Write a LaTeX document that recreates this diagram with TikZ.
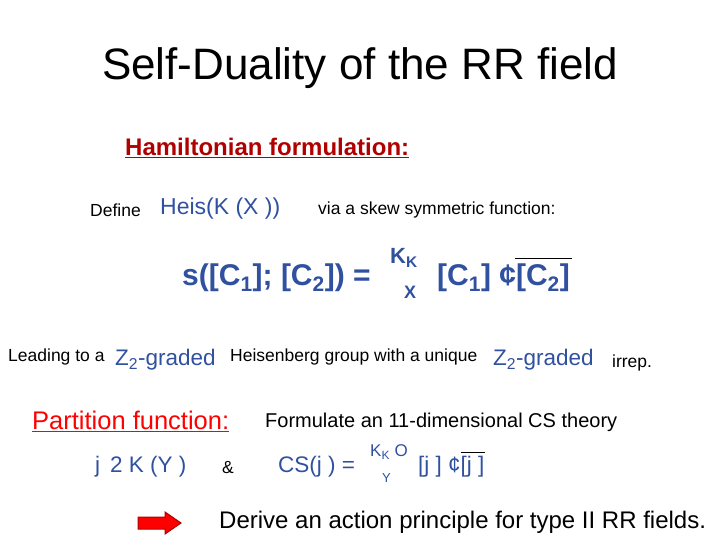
\documentclass[tikz,border=0pt]{standalone}
\usepackage{fontspec}
\setmainfont{Liberation Sans}
\definecolor{fb}{HTML}{3050A0}
\definecolor{dr}{HTML}{B00000}
\begin{document}
\begin{tikzpicture}[x=1pt,y=-1pt,
 t/.style={anchor=west,inner sep=0pt,font=\fontsize{17.5}{17.5}\selectfont},
 f/.style={anchor=west,inner sep=0pt,text=fb,font=\fontsize{22.5}{22.5}\selectfont},
 fb/.style={anchor=west,inner sep=0pt,text=fb,font=\bfseries\fontsize{30}{30}\selectfont}]
\useasboundingbox (0,0) rectangle (720,540);
\node (title) at (360,68) {\fontsize{44}{44}\selectfont Self-Duality of the RR field};
\node[t,text=dr,font=\bfseries\fontsize{24}{24}\selectfont] (ham) at (125,148) {\underline{Hamiltonian formulation:}};
\node[t] (def) at (90,210) {Define};
\node[f,font=\fontsize{23}{23}\selectfont] (heis) at (160,209) {Heis(K (X ))};
\node[t] (via) at (318,210) {via a skew symmetric function:};
\node[fb] (s) at (182,278) {s([C\textsubscript{1}]; [C\textsubscript{2}]) =};
\node[fb] (sig) at (390,258) {\fontsize{22}{22}\selectfont K\textsubscript{K}};
\node[fb] (x) at (404,292) {\fontsize{18}{18}\selectfont X};
\node[fb] (c1) at (437,278) {[C\textsubscript{1}] ¢[C\textsubscript{2}]};
\draw[fb,thick] (515,258) -- (572,258);
\node[t] (lead) at (8,357) {Leading to a};
\node[f] (z1) at (115,360) {Z\textsubscript{2}-graded};
\node[t] (heis2) at (230,357) {Heisenberg group with a unique};
\node[f] (z2) at (493,360) {Z\textsubscript{2}-graded};
\node[t] (irrep) at (612,363) {irrep.};
\node[t,text=red,font=\fontsize{25.5}{25.5}\selectfont] (pf) at (32,421) {\underline{Partition function:}};
\node[t,font=\fontsize{20}{20}\selectfont] (form) at (265,422) {Formulate an 11-dimensional CS theory};
\node[f] (j) at (95,467) {j\, 2 K (Y )};
\node[t] (amp) at (222,468) {\&};
\node[f] (cs) at (278,467) {CS(j ) =};
\node[f] (sig2) at (370,452) {\fontsize{17}{17}\selectfont K\textsubscript{K} O};
\node[f] (y) at (382,478) {\fontsize{13}{13}\selectfont Y};
\node[f] (jj) at (418,467) {[j ] ¢[j ]};
\draw[fb] (461,452) -- (485,452);
\draw[draw=dr,fill=red,line width=1pt] (138,517) -- (165,517) -- (165,512) -- (181,523) -- (165,534) -- (165,529) -- (138,529) -- cycle;
\node[t,font=\fontsize{24}{24}\selectfont] (der) at (219,522) {Derive an action principle for type II RR fields.};
\end{tikzpicture}
\end{document}
